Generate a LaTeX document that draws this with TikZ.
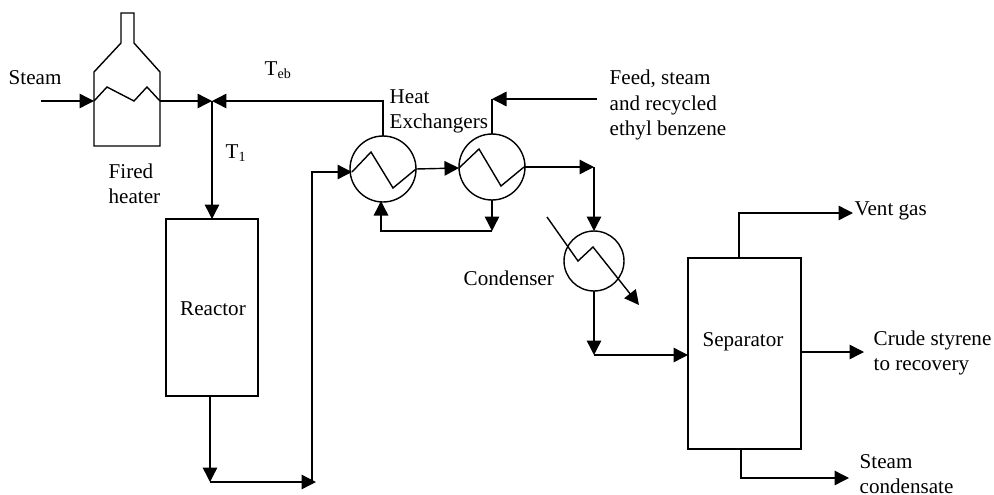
\documentclass[tikz,border=0pt]{standalone}
\usepackage{fontspec}
\setmainfont{Liberation Serif}
\usetikzlibrary{arrows.meta}
\tikzset{
unit/.style={draw,inner sep=0pt,outer sep=0pt},
hx/.style={unit,circle,minimum size=1.32cm},
vessel/.style={unit,rectangle},
lbl/.style={inner sep=0pt,font=\fontsize{12}{14.3}\selectfont,align=left,anchor=west}
}
\begin{document}
\begin{tikzpicture}
[x=0.02cm,y=-0.02cm,->,>={Triangle[length=0.29cm,width=0.29cm]},thick]
\useasboundingbox (0,0) rectangle (994,494);

\node (reactor) at (212,307.5) [vessel,minimum width=1.84cm,minimum height=3.54cm] {};
\node (sep) at (744.5,353.5) [vessel,minimum width=2.26cm,minimum height=3.82cm] {};
\node (hx1) at (383,169) [hx] {};
\node (hx2) at (492,167) [hx] {};
\node (cond) at (594,261) [hx,minimum size=1.2cm] {};

\coordinate (steamin) at (41,101);
\coordinate (heaterin) at (94,101);
\coordinate (heaterout) at (160,101);
\coordinate (mix) at (212,101);
\coordinate (feedin) at (597,99);
\coordinate (feedtop) at (492,99);
\coordinate (hx1in) at (352,172);
\coordinate (hx1out) at (416,169);
\coordinate (hx2in) at (459,168);
\coordinate (hx2out) at (524,167);
\coordinate (bend) at (594,167);
\coordinate (low1) at (492,231);
\coordinate (low2) at (381,231);
\coordinate (hx1low) at (381,201);
\coordinate (prod1) at (210,396);
\coordinate (prod2) at (210,482);
\coordinate (prod3) at (316,482);
\coordinate (produp) at (312,482);
\coordinate (prod4) at (312,172);
\coordinate (condout) at (594,355);
\coordinate (sepin) at (688,355);
\coordinate (ventout) at (739,258);
\coordinate (ventend) at (853,213);
\coordinate (crudeout) at (801,352);
\coordinate (crudeend) at (864,352);
\coordinate (waterout) at (741,449);
\coordinate (waterend) at (849,478);

% fired heater
\draw[-] (heaterin) -- (94,72) -- (121,43) -- (121,13) -- (134,13) -- (134,43) -- (160,72)
-- (heaterout) -- (160,146) -- (94,146) -- cycle;
\draw[-] (heaterin) -- (107,87) -- (134,101) -- (147,87) -- (heaterout);

% coils
\draw[-] (hx1in) -- (371,152) -- (393,188) -- (hx1out);
\draw[-] (hx2in) -- (479,149) -- (501,186) -- (hx2out);
\draw (547,217) -- (578,261) -- (593,247) -- (639,305);

\draw (steamin) -- (heaterin);
\draw (heaterout) -- (mix);
\draw (hx1.north) |- (mix);
\draw (mix) -- (reactor.north);
\draw (feedin) -- (feedtop);
\draw[-] (feedtop) -- (hx2.north);
\draw (hx1out) -- (hx2in);
\draw (hx2out) -- (bend);
\draw (bend) -- (cond.north);
\draw (hx2.south) -- (low1);
\draw (low1) -- (low2) -- (hx1low);
\draw (prod1) -- (prod2);
\draw (prod2) -- (prod3);
\draw (produp) -- (prod4) -- (hx1in);
\draw (cond.south) -- (condout);
\draw (condout) -- (sepin);
\draw (ventout) |- (ventend);
\draw (crudeout) -- (crudeend);
\draw (waterout) |- (waterend);

\node (steam) at (8,78) [lbl] {Steam};
\node (teb) at (264,70) [lbl] {T\textsubscript{eb}};
\node (t1) at (225,153) [lbl] {T\textsubscript{1}};
\node (fired) at (108,184) [lbl] {Fired\\heater};
\node (heat) at (389,111) [lbl] {Heat\\Exchangers};
\node (feed) at (609,105) [lbl] {Feed, steam\\and recycled\\ethyl benzene};
\node (condlbl) at (463,278) [lbl] {Condenser};
\node (reactorlbl) at (213,309) [lbl,anchor=center] {Reactor};
\node (seplbl) at (743,342) [lbl,anchor=center] {Separator};
\node (vent) at (854,211) [lbl] {Vent gas};
\node (crude) at (873,353) [lbl] {Crude styrene\\to recovery};
\node (water) at (859,474) [lbl] {Steam\\condensate};
\end{tikzpicture}
\end{document}
